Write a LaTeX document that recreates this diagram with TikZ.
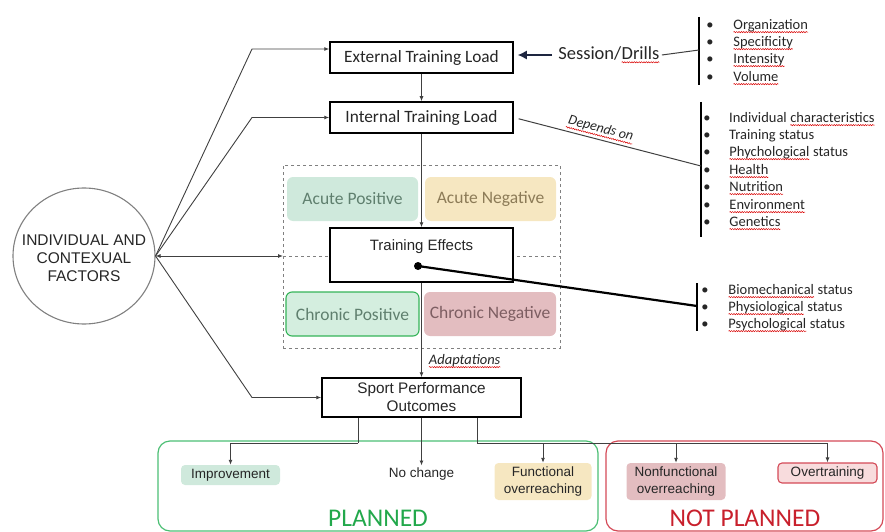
\documentclass[tikz,border=0pt]{standalone}
\usepackage{fontspec}
\setmainfont{Liberation Sans}
\newfontfamily\calib{Carlito}
\usetikzlibrary{arrows.meta,shapes.geometric,decorations.pathmorphing}
\definecolor{txt}{HTML}{262626}
\definecolor{lin}{HTML}{404040}
\definecolor{apfill}{HTML}{CFE9DC}
\definecolor{aptext}{HTML}{5F7F6E}
\definecolor{anfill}{HTML}{F6E7C1}
\definecolor{antext}{HTML}{8C7B57}
\definecolor{cpfill}{HTML}{D4EEDF}
\definecolor{cpdraw}{HTML}{35B459}
\definecolor{cnfill}{HTML}{E3BDC0}
\definecolor{cntext}{HTML}{7D5E62}
\definecolor{pgreen}{HTML}{22A84B}
\definecolor{pgdraw}{HTML}{4CBF74}
\definecolor{nred}{HTML}{C8202C}
\definecolor{nrdraw}{HTML}{D44A57}
\definecolor{ovfill}{HTML}{F8DCDD}
\definecolor{sarrow}{HTML}{1E2640}
\tikzset{
  squig/.style={-, shorten <=0pt, shorten >=0pt, draw=red!85!black, line width=0.5pt, decorate, decoration={snake, amplitude=0.6pt, segment length=2.4pt}},
  mainbox/.style={draw=black, line width=1.5pt, fill=white, text=txt, inner sep=0pt},
  effbox/.style={rounded corners=6pt, inner sep=0pt, font=\calib\fontsize{17.5}{20}\selectfont, minimum height=44pt},
  conn/.style={draw=lin, line width=0.9pt, -{Latex[length=5pt,width=4pt]}},
  plainline/.style={draw=lin, line width=0.9pt},
  brk/.style={draw=black, line width=1.4pt},
  item/.style={anchor=base west, inner sep=0pt, font=\calib\fontsize{14.5}{17}\selectfont, text=txt},
  bul/.style={anchor=base, inner sep=0pt, font=\calib\fontsize{14.5}{17}\selectfont, text=txt},
  outc/.style={rounded corners=4pt, inner sep=0pt, font=\fontsize{13.5}{17}\selectfont, text=txt, align=center}
}
\newcommand\sq[1]{\tikz[reset cm, baseline=(sqw.base)]{\node[inner sep=0pt, outer sep=0pt, anchor=base] (sqw) {#1}; \draw[squig] ([yshift=-2.6pt]sqw.base west) -- ([yshift=-2.6pt]sqw.base east);}}
\begin{document}
\begin{tikzpicture}[x=1pt,y=-1pt]
\useasboundingbox (0,0) rectangle (885,532);

% outcome frames
\node[draw=pgdraw, rounded corners=12pt, line width=1.2pt, minimum width=440pt, minimum height=90pt] (planbox) at (378,486) {};
\node[draw=nrdraw, rounded corners=12pt, line width=1.2pt, minimum width=277pt, minimum height=90pt] (nplanbox) at (744.5,486) {};
\node[text=pgreen, font=\calib\fontsize{25.5}{26}\selectfont, inner sep=0pt] (plt) at (378,518) {PLANNED};
\node[text=nred, font=\calib\fontsize{25.5}{26}\selectfont, inner sep=0pt] (nplt) at (745,518) {NOT PLANNED};

% circle
\node[ellipse, draw=gray, line width=1.1pt, minimum width=142pt, minimum height=136pt, inner sep=0pt] (ind) at (84,256) {};
\node[align=center, text=txt, font=\fontsize{15.5}{18}\selectfont, inner sep=0pt] (indtext) at (84,258) {INDIVIDUAL AND\\CONTEXUAL\\FACTORS};

% dashed frame
\node[draw=gray, dashed, line width=0.9pt, minimum width=277pt, minimum height=183pt] (dash) at (421.5,256.5) {};
\coordinate (dmidl) at (283,256);
\coordinate (dmidr) at (560,256);
\draw[draw=gray, dashed, line width=0.9pt] (dmidl) -- (dmidr);

% main boxes
\node[mainbox, minimum width=183pt, minimum height=31pt, font=\calib\fontsize{17.3}{20}\selectfont] (ext) at (421.5,57.5) {External Training Load};
\node[mainbox, minimum width=183pt, minimum height=31pt, font=\calib\fontsize{17.3}{20}\selectfont] (itl) at (421.5,117.5) {Internal Training Load};
\node[mainbox, minimum width=183pt, minimum height=54pt] (te) at (421.5,255) {};
\node[text=txt, font=\fontsize{15}{18}\selectfont, inner sep=0pt] (tetext) at (421.5,247) {Training Effects};
\node[mainbox, minimum width=199pt, minimum height=39pt, align=center, font=\fontsize{15.3}{18}\selectfont] (spo) at (421.5,397.5) {Sport Performance\\Outcomes};

% effect boxes
\node[effbox, fill=apfill, text=aptext, minimum width=131pt] (ap) at (352.5,199) {Acute Positive};
\node[effbox, fill=anfill, text=antext, minimum width=131pt] (an) at (490.5,199) {Acute Negative};
\node[effbox, fill=cpfill, draw=cpdraw, line width=1.1pt, text=aptext, minimum width=133pt] (cp) at (352.5,314) {Chronic Positive};
\node[effbox, fill=cnfill, text=cntext, minimum width=132pt] (cn) at (490,314) {Chronic Negative};

% vertical flow
\draw[conn] (ext.south) -- (itl.north);
\draw[conn] (itl.south) -- (te.north);
\draw[conn] (te.south) -- node[pos=0.83, right, xshift=7pt, font=\calib\itshape\fontsize{14.5}{16}\selectfont, text=txt, inner sep=0pt] (adapt) {\sq{Adaptations}} (spo.north);

% circle connectors
\coordinate (k1) at (252,49);
\coordinate (k2) at (252,117.5);
\coordinate (k3) at (252,397.5);
\draw[conn] (ind.east) -- (k1) -- (k1 -| ext.west);
\draw[conn] (ind.east) -- (k2) -- (itl.west);
\draw[conn] (ind.east) -- (k3) -- (spo.west);
\draw[draw=lin, line width=0.9pt, {Latex[length=5pt,width=4pt]}-{Latex[length=5pt,width=4pt]}] (ind.east) -- (dmidl);

% session / drills
\node[font=\calib\fontsize{18.5}{22}\selectfont, text=txt, inner sep=2pt] (sess) at (609,55) {Session/\sq{Drills}};
\draw[draw=sarrow, line width=1.3pt, -{Latex[length=9pt,width=9pt]}, shorten <=4pt, shorten >=4pt] (sess.west) -- (ext.east |- sess.west);
\coordinate (b1t) at (699,17);
\coordinate (b1b) at (699,85);
\coordinate (b1m) at (699,50);
\draw[brk] (b1t) -- (b1b);
\draw[draw=lin, line width=1pt] (sess.east) -- (b1m);
\foreach \t/\yy [count=\i] in {{\sq{Organization}}/25,{\sq{Specificity}}/42,{\sq{Intensity}}/59,{\sq{Volume}}/77}{
  \node[bul] (ba\i) at (710,\yy+4.5) {\textbullet};
  \node[item] (la\i) at (733,\yy+4.5) {\t};
}

% depends on
\coordinate (b2t) at (701,102);
\coordinate (b2b) at (701,237);
\coordinate (b2m) at (701,166);
\draw[brk] (b2t) -- (b2b);
\draw[draw=lin, line width=1pt, shorten <=5pt] (itl.east) -- node[pos=0.45, above=4pt, sloped, font=\calib\itshape\fontsize{14}{16}\selectfont, text=txt, inner sep=0.5pt] (dep) {Depends on} (b2m);
\draw[squig] (dep.south west) -- (dep.south east);
\foreach \t/\yy [count=\i] in {{Individual \sq{characteristics}}/118,{Training status}/135,{\sq{Phychological} status}/152,{\sq{Health}}/170,{\sq{Nutrition}}/187,{\sq{Environment}}/205,{\sq{Genetics}}/222}{
  \node[bul] (bb\i) at (707,\yy+4.5) {\textbullet};
  \node[item] (lb\i) at (729,\yy+4.5) {\t};
}

% training effects status
\node[circle, fill=black, inner sep=0pt, minimum size=8pt] (dot) at (418,266) {};
\coordinate (b3t) at (697,283);
\coordinate (b3b) at (697,331);
\coordinate (b3m) at (697,306);
\draw[brk] (b3t) -- (b3b);
\draw[draw=black, line width=2.2pt] (dot.center) -- (b3m);
\foreach \t/\yy [count=\i] in {{\sq{Biomechanical} status}/290,{\sq{Physiological} status}/307,{\sq{Psychological} status}/324}{
  \node[bul] (bc\i) at (705,\yy+4.5) {\textbullet};
  \node[item] (lc\i) at (728,\yy+4.5) {\t};
}

% outcomes
\node[outc, fill=apfill, minimum width=99pt, minimum height=20pt] (imp) at (230.5,475) {Improvement};
\node[outc, inner sep=2pt] (noc) at (421.5,474) {No change};
\node[outc, fill=anfill, minimum width=97pt, minimum height=37pt] (func) at (543,481.5) {Functional\\overreaching};
\node[outc, fill=cnfill, minimum width=99pt, minimum height=37pt] (nfo) at (676,481.5) {Nonfunctional\\overreaching};
\node[outc, fill=ovfill, draw=nrdraw, line width=1.1pt, minimum width=99pt, minimum height=20pt] (ovt) at (827.5,473) {Overtraining};

\coordinate (j1) at (358,443);
\coordinate (j2) at (477,443);
\draw[plainline] (spo.south -| j1) -- (j1);
\draw[conn] (j1) -| (imp.north);
\draw[conn] (spo.south) -- (noc.north);
\draw[plainline] (spo.south -| j2) -- (j2);
\draw[conn] (j2) -| (ovt.north);
\draw[conn] (func.north |- j2) -- (func.north);
\draw[conn] (nfo.north |- j2) -- (nfo.north);
\end{tikzpicture}
\end{document}
